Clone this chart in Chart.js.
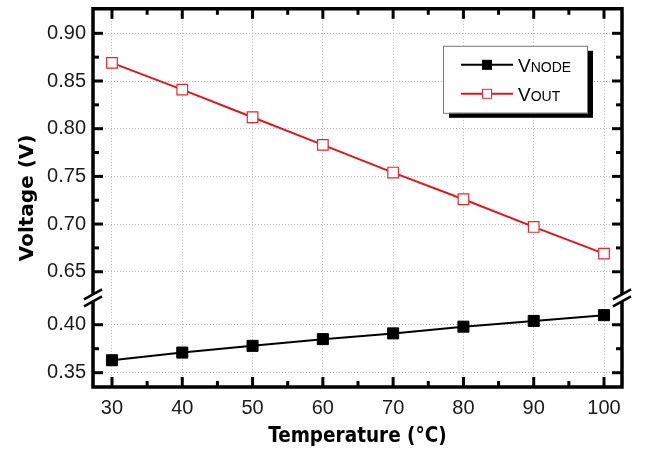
<!DOCTYPE html>
<html>
<head>
<meta charset="utf-8">
<script src="https://cdn.jsdelivr.net/npm/chart.js@4.4.1/dist/chart.umd.min.js"></script>
<style>
    html, body { margin: 0; padding: 0; background: #fff; }
    canvas { display: block; }
</style>
</head>
<body>
<canvas id="chart" width="647" height="453"></canvas>
<script>
(function () {
    "use strict";

    // Data
    const temps = [30, 40, 50, 60, 70, 80, 90, 100];
    const vNode = [0.363, 0.371, 0.378, 0.385, 0.391, 0.398, 0.404, 0.410];
    const vOut = [0.869, 0.841, 0.812, 0.783, 0.754, 0.726, 0.697, 0.669];
    const xTicks = [30, 40, 50, 60, 70, 80, 90, 100];
    const upperTicks = [0.65, 0.70, 0.75, 0.80, 0.85, 0.90];
    const lowerTicks = [0.35, 0.40];

    const tickFont = { family: "'Liberation Sans', Arial, sans-serif", size: 20 };
    const tickColor = "#1a1a1a";
    const gridOpts = { color: "#b5b5b5", lineWidth: 1, drawTicks: false };
    const borderOpts = { display: false, dash: [1, 2] };
    const minors = (arr) => arr.slice(1).map((v, i) => (v + arr[i]) / 2);

    // keep the plot box where we want it (no label overflow padding)
    const fitY = (s) => {
        s.width = 93;
        s.paddingTop = 0;
        s.paddingBottom = 0;
    };

    // Frame, inner ticks, axis break, y title and legend
    const framePlugin = {
        id: "frame",
        afterDraw(chart) {
            const { ctx, chartArea: a, scales } = chart;
            const xs = scales.x;
            const brk = scales.yHigh.bottom;
            const line = (x1, y1, x2, y2) => {
                ctx.beginPath();
                ctx.moveTo(x1, y1);
                ctx.lineTo(x2, y2);
                ctx.stroke();
            };
            ctx.save();
            ctx.strokeStyle = "#000";
            ctx.lineWidth = 3;

            xTicks.forEach((v) => {
                const px = xs.getPixelForValue(v);
                line(px, a.bottom, px, a.bottom - 10);
                line(px, a.top, px, a.top + 10);
            });
            minors(xTicks).forEach((v) => {
                const px = xs.getPixelForValue(v);
                line(px, a.bottom, px, a.bottom - 6);
                line(px, a.top, px, a.top + 6);
            });
            [[scales.yHigh, upperTicks], [scales.yLow, lowerTicks]].forEach(([s, arr]) => {
                arr.forEach((v) => {
                    const py = s.getPixelForValue(v);
                    line(a.left, py, a.left + 10, py);
                    line(a.right, py, a.right - 10, py);
                });
                minors(arr).forEach((v) => {
                    const py = s.getPixelForValue(v);
                    line(a.left, py, a.left + 6, py);
                    line(a.right, py, a.right - 6, py);
                });
            });

            // frame with break gap
            ctx.lineWidth = 3.5;
            ctx.lineJoin = "miter";
            ctx.beginPath();
            ctx.moveTo(a.left, brk - 4);
            ctx.lineTo(a.left, a.top);
            ctx.lineTo(a.right, a.top);
            ctx.lineTo(a.right, brk - 4);
            ctx.moveTo(a.left, brk + 4);
            ctx.lineTo(a.left, a.bottom);
            ctx.lineTo(a.right, a.bottom);
            ctx.lineTo(a.right, brk + 4);
            ctx.stroke();

            ctx.lineWidth = 2.5;
            [a.left, a.right].forEach((bx) => {
                [-3.5, 3.5].forEach((d) => line(bx - 9, brk + d + 5, bx + 9, brk + d - 5));
            });

            // y axis title
            ctx.save();
            ctx.translate(27.5, (a.top + a.bottom) / 2);
            ctx.rotate(-Math.PI / 2);
            ctx.fillStyle = "#000";
            ctx.font = "bold 20px 'DejaVu Sans'";
            ctx.textAlign = "center";
            ctx.textBaseline = "middle";
            ctx.fillText("Voltage (V)", 0, 0);
            ctx.restore();

            // legend
            const lx = a.right - 179;
            const ly = a.top + 37;
            const w = 144;
            const h = 67;
            ctx.fillStyle = "#000";
            ctx.fillRect(lx + 6, ly + 5, w, h);
            ctx.fillStyle = "#fff";
            ctx.fillRect(lx, ly, w, h);
            ctx.strokeStyle = "#777";
            ctx.lineWidth = 1;
            ctx.strokeRect(lx + 0.5, ly + 0.5, w, h);

            chart.data.datasets.forEach((ds, i) => {
                const cy = ly + 19 + i * 29;
                ctx.strokeStyle = ds.borderColor;
                ctx.lineWidth = 2;
                line(lx + 18, cy, lx + 70, cy);
                ctx.fillStyle = ds.pointBackgroundColor;
                ctx.strokeStyle = ds.pointBorderColor;
                ctx.lineWidth = 1;
                ctx.fillRect(lx + 39.5, cy - 4.5, 9, 9);
                ctx.strokeRect(lx + 39.5, cy - 4.5, 9, 9);

                ctx.fillStyle = "#000";
                ctx.textAlign = "left";
                ctx.textBaseline = "alphabetic";
                ctx.font = "19px 'Liberation Sans'";
                const first = ds.label.charAt(0);
                ctx.fillText(first, lx + 75, cy + 7);
                const fw = ctx.measureText(first).width;
                ctx.font = "14px 'Liberation Sans'";
                ctx.fillText(ds.label.slice(1), lx + 75 + fw, cy + 7);
            });
            ctx.restore();
        },
    };

    const ctx = document.getElementById("chart").getContext("2d");

    new Chart(ctx, {
        type: "line",
        data: {
            datasets: [
                {
                    label: "VNODE",
                    data: temps.map((t, i) => ({ x: t, y: vNode[i] })),
                    yAxisID: "yLow",
                    borderColor: "#000",
                    backgroundColor: "#000",
                    borderWidth: 2,
                    pointStyle: "rect",
                    pointRadius: 7.8,
                    pointBorderWidth: 1,
                    pointBackgroundColor: "#000",
                    pointBorderColor: "#000",
                    tension: 0,
                },
                {
                    label: "VOUT",
                    data: temps.map((t, i) => ({ x: t, y: vOut[i] })),
                    yAxisID: "yHigh",
                    borderColor: "#e3151a",
                    backgroundColor: "#fff",
                    borderWidth: 2,
                    pointStyle: "rect",
                    pointRadius: 7.5,
                    pointBorderWidth: 1.2,
                    pointBackgroundColor: "#fff",
                    pointBorderColor: "#e8262b",
                    tension: 0,
                },
            ],
        },
        options: {
            responsive: false,
            animation: false,
            layout: { padding: { top: 6, right: 25, left: 0, bottom: 0 } },
            plugins: {
                legend: { display: false },
                tooltip: { enabled: false },
            },
            scales: {
                x: {
                    type: "linear",
                    min: 27.3,
                    max: 102.56,
                    afterBuildTicks: (s) => { s.ticks = xTicks.map((v) => ({ value: v })); },
                    afterFit: (s) => { s.height = 66; },
                    grid: gridOpts,
                    border: borderOpts,
                    ticks: { font: tickFont, color: tickColor, padding: 9 },
                    title: {
                        display: true,
                        text: "Temperature (°C)",
                        color: "#000",
                        font: { family: "'DejaVu Sans Condensed', 'DejaVu Sans'", size: 20.5, weight: "bold" },
                        padding: { top: 0, bottom: 4 },
                    },
                },
                yLow: {
                    type: "linear",
                    position: "left",
                    stack: "v",
                    stackWeight: 89.7,
                    min: 0.3351,
                    max: 0.428,
                    afterBuildTicks: (s) => { s.ticks = lowerTicks.map((v) => ({ value: v })); },
                    afterFit: fitY,
                    grid: gridOpts,
                    border: borderOpts,
                    ticks: { font: tickFont, color: tickColor, padding: 7, callback: (v) => v.toFixed(2) },
                },
                yHigh: {
                    type: "linear",
                    position: "left",
                    stack: "v",
                    stackWeight: 291,
                    min: 0.6226,
                    max: 0.9257,
                    afterBuildTicks: (s) => { s.ticks = upperTicks.map((v) => ({ value: v })); },
                    afterFit: fitY,
                    grid: gridOpts,
                    border: borderOpts,
                    ticks: { font: tickFont, color: tickColor, padding: 7, callback: (v) => v.toFixed(2) },
                },
            },
        },
        plugins: [framePlugin],
    });
})();
</script>
</body>
</html>
